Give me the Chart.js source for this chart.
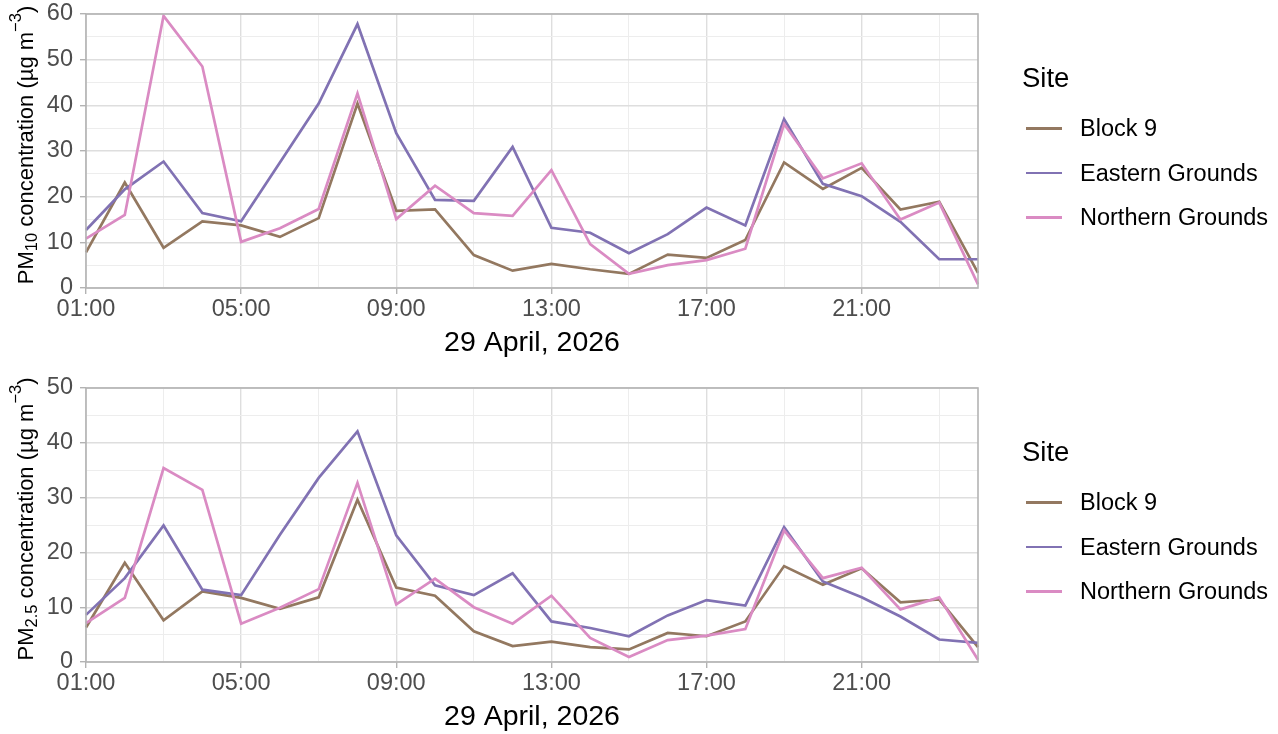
<!DOCTYPE html>
<html>
<head>
<meta charset="utf-8">
<script src="https://cdn.jsdelivr.net/npm/chart.js@4.4.0/dist/chart.umd.min.js"></script>
<style>
  body { margin: 0; background: #fff; font-family: "Liberation Sans", Arial, sans-serif; }
  .panel { position: absolute; left: 0; width: 1278px; height: 360px; }
  .legend-title { position: absolute; left: 1022px; top: 62px; font-size: 27.5px; color: #000; line-height: 32px; }
  .legend-item { position: absolute; left: 1026px; height: 30px; font-size: 23.5px; color: #000; line-height: 30px; white-space: nowrap; }
  .legend-item span.key { position: absolute; left: 0; top: 14px; width: 36px; height: 2.7px; }
  .legend-item span.lab { position: absolute; left: 54px; top: 0; }
</style>
</head>
<body>
<div class="panel" id="p1" style="top:0"><canvas id="pm10" width="1278" height="360"></canvas></div>
<div class="panel" id="p2" style="top:374px"><canvas id="pm25" width="1278" height="360"></canvas></div>
<script>
// hourly readings, 29 April 2026
const hours = ['01:00', '02:00', '03:00', '04:00', '05:00', '06:00', '07:00', '08:00',
  '09:00', '10:00', '11:00', '12:00', '13:00', '14:00', '15:00', '16:00',
  '17:00', '18:00', '19:00', '20:00', '21:00', '22:00', '23:00', '00:00'];
const sites = ['Block 9', 'Eastern Grounds', 'Northern Grounds'];
const siteColors = ['#937860', '#8172B3', '#DA8BC3'];

const pm10Block9 = [7.8, 23.1, 8.8, 14.6, 13.7, 11.2, 15.3, 40.4, 16.9, 17.2, 7.2, 3.8, 5.3, 4.1, 3.1, 7.3, 6.6, 10.5, 27.5, 21.7, 26.3, 17.2, 18.9, 3.3];
const pm10Eastern = [12.7, 21.6, 27.7, 16.4, 14.6, 27.5, 40.4, 57.8, 33.9, 19.3, 19.1, 30.9, 13.2, 12.1, 7.6, 11.8, 17.6, 13.7, 37.0, 22.8, 20.1, 14.5, 6.3, 6.3];
const pm10Northern = [10.8, 16.0, 59.6, 48.5, 10.1, 13.1, 17.3, 42.6, 15.1, 22.4, 16.4, 15.8, 25.8, 9.6, 3.1, 5.0, 6.1, 8.6, 35.9, 24.0, 27.3, 15.0, 18.7, 0.8];

const pm25Block9 = [6.3, 18.1, 7.6, 12.9, 11.7, 9.7, 11.8, 29.6, 13.6, 12.1, 5.6, 2.9, 3.7, 2.7, 2.3, 5.3, 4.7, 7.4, 17.5, 14.1, 17.1, 10.9, 11.4, 2.7];
const pm25Eastern = [8.6, 15.3, 24.9, 13.2, 12.2, 23.2, 33.6, 42.1, 23.1, 14.0, 12.2, 16.2, 7.4, 6.2, 4.7, 8.5, 11.3, 10.3, 24.6, 14.7, 11.8, 8.3, 4.1, 3.5];
const pm25Northern = [7.1, 11.7, 35.4, 31.4, 7.0, 9.9, 13.3, 32.7, 10.5, 15.2, 10.0, 7.0, 12.1, 4.4, 0.9, 4.0, 4.8, 6.0, 24.0, 15.3, 17.2, 9.6, 11.8, 0.4];

const xTitle = '29 April, 2026';
const FONT = '"Liberation Sans", Arial, sans-serif';
const MAJOR = '#DEDEDE', MINOR = '#EDEDED', FRAME = '#B3B3B3';

// panel border + y title with sub/superscripts
const panelFrame = {
  id: 'panelFrame',
  afterDraw(chart, args, opts) {
    const { ctx, chartArea: a } = chart;
    ctx.save();
    ctx.strokeStyle = FRAME;
    ctx.lineWidth = 1.6;
    ctx.strokeRect(a.left, a.top, a.right - a.left, a.bottom - a.top);

    const parts = opts.parts || [];
    let total = 0;
    parts.forEach(p => {
      ctx.font = p.size + 'px ' + FONT;
      p.w = ctx.measureText(p.t).width;
      total += p.w;
    });
    ctx.translate(33, (a.top + a.bottom) / 2 - 6);
    ctx.rotate(-Math.PI / 2);
    ctx.fillStyle = '#000';
    ctx.textBaseline = 'alphabetic';
    ctx.textAlign = 'left';
    let x = -total / 2;
    parts.forEach(p => {
      ctx.font = p.size + 'px ' + FONT;
      ctx.fillText(p.t, x, p.dy || 0);
      x += p.w;
    });
    ctx.restore();
  }
};

function makeLegend(panelId) {
  const panel = document.getElementById(panelId);
  const t = document.createElement('div');
  t.className = 'legend-title';
  t.textContent = 'Site';
  panel.appendChild(t);
  sites.forEach((s, i) => {
    const d = document.createElement('div');
    d.className = 'legend-item';
    d.style.top = (113 + i * 44.5) + 'px';
    d.innerHTML = '<span class="key" style="background:' + siteColors[i] + '"></span><span class="lab">' + s + '</span>';
    panel.appendChild(d);
  });
}

function makeChart(canvasId, yMax, series, titleParts) {
  // Northern drawn last (on top), as in the original
  const datasets = series.map((vals, i) => ({
    label: sites[i],
    data: vals,
    borderColor: siteColors[i],
    borderWidth: 2.7,
    pointRadius: 0,
    tension: 0,
    fill: false
  })).reverse();

  return new Chart(document.getElementById(canvasId), {
    type: 'line',
    data: { labels: hours, datasets: datasets },
    plugins: [panelFrame],
    options: {
      responsive: false,
      animation: false,
      layout: { padding: { left: 0, top: 14, right: 300, bottom: 0 } },
      plugins: {
        legend: { display: false },
        tooltip: { enabled: false },
        panelFrame: { parts: titleParts }
      },
      scales: {
        x: {
          type: 'category',
          offset: false,
          afterFit: s => { s.height = 72; s.paddingLeft = 0; s.paddingRight = 0; },
          grid: {
            offset: false,
            tickLength: 6,
            color: c => c.index % 4 === 0 ? MAJOR : (c.index % 2 === 0 ? MINOR : 'rgba(0,0,0,0)'),
            tickColor: c => c.index % 4 === 0 ? FRAME : 'rgba(0,0,0,0)',
            lineWidth: c => c.index % 4 === 0 ? 1.4 : 1
          },
          border: { display: false },
          ticks: {
            autoSkip: false,
            maxRotation: 0,
            padding: 1,
            color: '#4D4D4D',
            font: { size: 23.5, family: FONT },
            callback: function (v, i) { return i % 4 === 0 ? this.getLabelForValue(v) : ''; }
          },
          title: {
            display: true,
            text: xTitle,
            color: '#000',
            font: { size: 28.5, family: FONT },
            padding: { top: 0, bottom: 0 }
          }
        },
        y: {
          min: 0,
          max: yMax,
          afterFit: s => { s.width = 86; s.paddingTop = 0; s.paddingBottom = 0; },
          grid: {
            tickLength: 6,
            color: c => c.tick.value % 10 === 0 ? MAJOR : MINOR,
            tickColor: c => c.tick.value % 10 === 0 ? FRAME : 'rgba(0,0,0,0)',
            lineWidth: c => c.tick.value % 10 === 0 ? 1.4 : 1
          },
          border: { display: false },
          ticks: {
            stepSize: 5,
            autoSkip: false,
            padding: 7,
            color: '#4D4D4D',
            font: { size: 23.5, family: FONT },
            callback: v => v % 10 === 0 ? v : ''
          }
        }
      }
    }
  });
}

makeChart('pm10', 60, [pm10Block9, pm10Eastern, pm10Northern], [
  { t: 'PM', size: 22 },
  { t: '10', size: 16.5, dy: 4 },
  { t: ' concentration (\u00b5g m', size: 22 },
  { t: '\u22123', size: 16.5, dy: -12 },
  { t: ')', size: 22 }
]);
makeChart('pm25', 50, [pm25Block9, pm25Eastern, pm25Northern], [
  { t: 'PM', size: 22 },
  { t: '2.5', size: 16.5, dy: 4 },
  { t: ' concentration (\u00b5g m', size: 22 },
  { t: '\u22123', size: 16.5, dy: -12 },
  { t: ')', size: 22 }
]);
makeLegend('p1');
makeLegend('p2');
</script>
</body>
</html>
